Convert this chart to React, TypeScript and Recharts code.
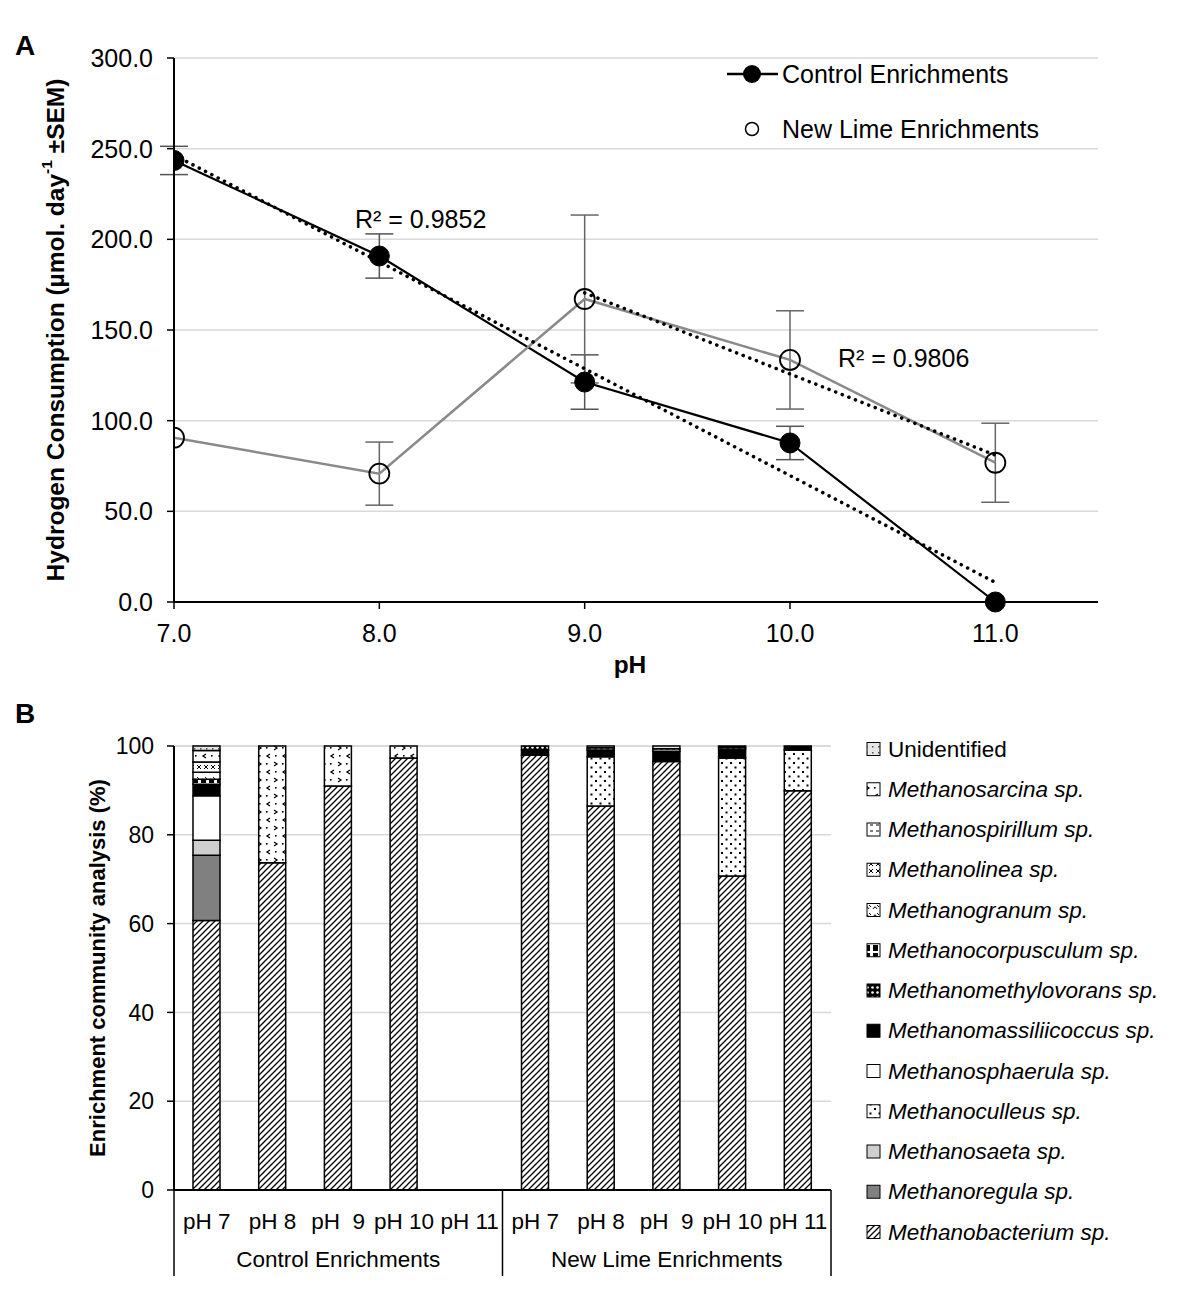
import { ComposedChart, Line, XAxis, YAxis, CartesianGrid, ErrorBar, BarChart, Bar } from 'recharts';

// Panel A: hydrogen consumption vs pH
const phValues = [7, 8, 9, 10, 11];
const controlH2 = [243.5, 190.8, 121.3, 87.7, 0];
const controlSem = [7.8, 12.2, 15.0, 9.2, 0];
const limeH2 = [90.6, 70.8, 167.1, 133.5, 76.8];
const limeSem = [0, 17.4, 46.3, 27.1, 21.8];
const controlTrendPh = [7, 11];
const controlTrend = [246.5, 10.8];
const limeTrendPh = [9, 11];
const limeTrend = [170.5, 81.0];
const yTicksA = [0, 50, 100, 150, 200, 250, 300];
const xTicksA = [7, 8, 9, 10, 11];

// Panel B: community composition (%)
const phLabelsB = ['pH 7', 'pH 8', 'pH  9', 'pH 10', 'pH 11', 'pH 7', 'pH 8', 'pH  9', 'pH 10', 'pH 11'];
const groupLabels = ['Control Enrichments', 'New Lime Enrichments'];
const yTicksB = [0, 20, 40, 60, 80, 100];

const methanobacterium = [60.7, 73.7, 91.0, 97.3, 0, 97.9, 86.5, 96.5, 70.7, 89.9];
const methanoregula = [14.7, 0, 0, 0, 0, 0, 0, 0, 0, 0];
const methanosaeta = [3.4, 0, 0, 0, 0, 0, 0, 0, 0, 0];
const methanoculleus = [0, 0, 0, 0, 0, 0, 11.1, 0, 26.6, 9.2];
const methanosphaerula = [10.0, 0, 0, 0, 0, 0, 0, 0, 0, 0];
const methanomassiliicoccus = [2.6, 0, 0, 0, 0, 1.2, 1.5, 2.3, 2.0, 0.9];
const methanomethylovorans = [0, 0, 0, 0, 0, 0.9, 0, 0, 0, 0];
const methanocorpusculum = [1.1, 0, 0, 0, 0, 0, 0, 0, 0, 0];
const methanogranum = [1.6, 0, 0, 0, 0, 0, 0, 0, 0, 0];
const methanolinea = [2.3, 0, 0, 0, 0, 0, 0, 0, 0, 0];
const methanospirillum = [0, 0, 0, 0, 0, 0, 0.5, 0.6, 0.4, 0];
const methanosarcina = [2.6, 26.3, 9.0, 2.7, 0, 0, 0, 0, 0, 0];
const unidentified = [1.0, 0, 0, 0, 0, 0, 0.4, 0.6, 0.3, 0];

// bottom of stack first
const species = [
  { key: 'bact', name: 'Methanobacterium sp.', values: methanobacterium },
  { key: 'regula', name: 'Methanoregula sp.', values: methanoregula },
  { key: 'saeta', name: 'Methanosaeta sp.', values: methanosaeta },
  { key: 'culleus', name: 'Methanoculleus sp.', values: methanoculleus },
  { key: 'sphaerula', name: 'Methanosphaerula sp.', values: methanosphaerula },
  { key: 'massil', name: 'Methanomassiliicoccus sp.', values: methanomassiliicoccus },
  { key: 'methylo', name: 'Methanomethylovorans sp.', values: methanomethylovorans },
  { key: 'corpus', name: 'Methanocorpusculum sp.', values: methanocorpusculum },
  { key: 'granum', name: 'Methanogranum sp.', values: methanogranum },
  { key: 'linea', name: 'Methanolinea sp.', values: methanolinea },
  { key: 'spiril', name: 'Methanospirillum sp.', values: methanospirillum },
  { key: 'sarcina', name: 'Methanosarcina sp.', values: methanosarcina },
  { key: 'unid', name: 'Unidentified', values: unidentified },
];

const dataA = phValues.map((ph, i) => ({
  ph,
  control: controlH2[i],
  controlErr: controlSem[i],
  lime: limeH2[i],
  limeErr: limeSem[i],
}));
const trendC = controlTrendPh.map((ph, i) => ({ ph, trend: controlTrend[i] }));
const trendL = limeTrendPh.map((ph, i) => ({ ph, trend: limeTrend[i] }));

const dataB = phLabelsB.map((label, i) => {
  const row: any = { id: i, label };
  species.forEach((s) => (row[s.key] = s.values[i]));
  return row;
});

const FONT = '"Liberation Sans", Arial, sans-serif';
const B_LEFT = 174;
const B_RIGHT = 831;
const BAND = (B_RIGHT - B_LEFT) / phLabelsB.length;

function Patterns() {
  return (
    <svg width={0} height={0} style={{ position: 'absolute' }}>
      <defs>
        <pattern id="bact" patternUnits="userSpaceOnUse" width={6} height={6}>
          <rect width={6} height={6} fill="#fff" />
          <path d="M-1,1 l2,-2 M0,6 l6,-6 M5,7 l2,-2" stroke="#000" strokeWidth={1.3} />
        </pattern>
        <pattern id="regula" patternUnits="userSpaceOnUse" width={4} height={4}>
          <rect width={4} height={4} fill="#808080" />
        </pattern>
        <pattern id="saeta" patternUnits="userSpaceOnUse" width={4} height={4}>
          <rect width={4} height={4} fill="#cfcfcf" />
        </pattern>
        <pattern id="culleus" patternUnits="userSpaceOnUse" width={9} height={9}>
          <rect width={9} height={9} fill="#fff" />
          <rect x={1} y={1} width={2} height={2} fill="#000" />
          <rect x={5.5} y={5.5} width={2} height={2} fill="#000" />
        </pattern>
        <pattern id="sphaerula" patternUnits="userSpaceOnUse" width={4} height={4}>
          <rect width={4} height={4} fill="#fff" />
        </pattern>
        <pattern id="massil" patternUnits="userSpaceOnUse" width={4} height={4}>
          <rect width={4} height={4} fill="#000" />
        </pattern>
        <pattern id="methylo" patternUnits="userSpaceOnUse" width={5} height={5}>
          <rect width={5} height={5} fill="#000" />
          <circle cx={2.5} cy={2.5} r={1.3} fill="#fff" />
        </pattern>
        <pattern id="corpus" patternUnits="userSpaceOnUse" width={8} height={8}>
          <rect width={8} height={8} fill="#fff" />
          <rect x={1} y={1} width={5} height={6} fill="#000" />
        </pattern>
        <pattern id="granum" patternUnits="userSpaceOnUse" width={8} height={8}>
          <rect width={8} height={8} fill="#fff" />
          <path d="M1,5 q2,-4 4,0 M5,1 l2,2" stroke="#000" strokeWidth={1} fill="none" />
        </pattern>
        <pattern id="linea" patternUnits="userSpaceOnUse" width={7} height={7}>
          <rect width={7} height={7} fill="#fff" />
          <path d="M1,1 l4,4 M5,1 l-4,4" stroke="#000" strokeWidth={1} />
        </pattern>
        <pattern id="spiril" patternUnits="userSpaceOnUse" width={6} height={6}>
          <rect width={6} height={6} fill="#fff" />
          <path d="M0,3 h3" stroke="#000" strokeWidth={1} />
        </pattern>
        <pattern id="sarcina" patternUnits="userSpaceOnUse" width={16} height={16}>
          <rect width={16} height={16} fill="#fff" />
          <path d="M2,2 l3,2 l-3,2 M14,10 l-3,2 l3,2" stroke="#000" strokeWidth={1.3} fill="none" />
          <rect x={10} y={3} width={1.6} height={1.6} fill="#000" />
          <rect x={3} y={11} width={1.6} height={1.6} fill="#000" />
        </pattern>
        <pattern id="unid" patternUnits="userSpaceOnUse" width={6} height={6}>
          <rect width={6} height={6} fill="#e6e6e6" />
          <rect x={2} y={2} width={1.5} height={1.5} fill="#555" />
        </pattern>
      </defs>
    </svg>
  );
}

function CategoryTick(props: any) {
  const { x, y, payload } = props;
  const i = payload?.index ?? props.index ?? 0;
  return (
    <g>
      <text
        x={x}
        y={y + 31}
        textAnchor="middle"
        dominantBaseline="central"
        fontSize={22.5}
        fontFamily={FONT}
        fill="#000"
        xmlSpace="preserve"
        style={{ whiteSpace: 'pre' }}
      >
        {phLabelsB[i]}
      </text>
      {i % 5 === 0 && (
        <line x1={x - BAND / 2} x2={x - BAND / 2} y1={y} y2={y + 86} stroke="#000" strokeWidth={1.5} />
      )}
      {i === phLabelsB.length - 1 && (
        <line x1={x + BAND / 2} x2={x + BAND / 2} y1={y} y2={y + 86} stroke="#000" strokeWidth={1.5} />
      )}
      {i % 5 === 2 && (
        <text x={x} y={y + 69} textAnchor="middle" dominantBaseline="central" fontSize={22.5} fontFamily={FONT} fill="#000">
          {groupLabels[Math.floor(i / 5)]}
        </text>
      )}
    </g>
  );
}

function Overlay() {
  const rowStep = 40.25;
  const legendB = [...species].reverse();
  return (
    <svg
      width={1183}
      height={1296}
      style={{ position: 'absolute', left: 0, top: 0, pointerEvents: 'none' }}
      fontFamily={FONT}
    >
      <text x={15} y={45} fontSize={28} fontWeight="bold" dominantBaseline="central">A</text>
      <text x={15} y={713} fontSize={28} fontWeight="bold" dominantBaseline="central">B</text>

      <text x={55} y={330} transform="rotate(-90 55 330)" textAnchor="middle" dominantBaseline="central" fontSize={24.5} fontWeight="bold">
        Hydrogen Consumption (µmol. day<tspan fontSize={15.5} dy={-9}>-1</tspan>
        <tspan dy={9}> ±SEM)</tspan>
      </text>
      <text x={630} y={664} textAnchor="middle" dominantBaseline="central" fontSize={24.5} fontWeight="bold">pH</text>

      <text x={355} y={219} dominantBaseline="central" fontSize={25}>R² = 0.9852</text>
      <text x={838} y={358} dominantBaseline="central" fontSize={25}>R² = 0.9806</text>

      <line x1={727} x2={778} y1={74} y2={74} stroke="#000" strokeWidth={2.5} />
      <circle cx={752} cy={74} r={9} fill="#000" />
      <text x={782} y={74} dominantBaseline="central" fontSize={25}>Control Enrichments</text>
      <circle cx={752} cy={129} r={6.5} fill="none" stroke="#000" strokeWidth={1.5} />
      <text x={782} y={129} dominantBaseline="central" fontSize={25}>New Lime Enrichments</text>

      <text x={97} y={968} transform="rotate(-90 97 968)" textAnchor="middle" dominantBaseline="central" fontSize={22} fontWeight="bold">
        Enrichment community analysis (%)
      </text>

      {legendB.map((s, r) => {
        const cy = 749 + r * rowStep;
        return (
          <g key={s.key}>
            <rect x={867} y={cy - 6.5} width={13} height={13} fill={`url(#${s.key})`} stroke="#000" strokeWidth={1} />
            <text x={888} y={cy} dominantBaseline="central" fontSize={22.5} fontStyle={s.key === 'unid' ? 'normal' : 'italic'}>
              {s.name}
            </text>
          </g>
        );
      })}
    </svg>
  );
}

export default function App() {
  return (
    <div style={{ position: 'absolute', left: 0, top: 0, width: 1183, height: 1296, background: '#fff', fontFamily: FONT }}>
      <Patterns />
      <div style={{ position: 'absolute', left: 0, top: 0 }}>
        <ComposedChart width={1183} height={680} data={dataA} margin={{ top: 58, right: 85, bottom: 38, left: 0 }}>
          <CartesianGrid vertical={false} stroke="#d9d9d9" strokeWidth={1.5} />
          <XAxis
            dataKey="ph"
            type="number"
            domain={[7, 11.5]}
            allowDataOverflow
            ticks={xTicksA}
            tickFormatter={(v: number) => v.toFixed(1)}
            height={40}
            tick={{ fontSize: 25, fill: '#000', fontFamily: FONT }}
            axisLine={{ stroke: '#000', strokeWidth: 2 }}
            tickLine={{ stroke: '#000', strokeWidth: 1.5 }}
            tickSize={7}
            tickMargin={15}
          />
          <YAxis
            type="number"
            domain={[0, 300]}
            ticks={yTicksA}
            tickFormatter={(v: number) => v.toFixed(1)}
            width={174}
            tick={{ fontSize: 25, fill: '#000', fontFamily: FONT }}
            axisLine={{ stroke: '#000', strokeWidth: 2 }}
            tickLine={{ stroke: '#000', strokeWidth: 1.5 }}
            tickSize={7}
            tickMargin={14}
          />
          <Line
            dataKey="control"
            type="linear"
            stroke="#000"
            strokeWidth={2.2}
            dot={{ r: 10, fill: '#000', stroke: '#000', strokeWidth: 1 }}
            activeDot={false}
            isAnimationActive={false}
          >
            <ErrorBar dataKey="controlErr" width={14} stroke="#555" strokeWidth={1.5} direction="y" />
          </Line>
          <Line
            dataKey="lime"
            type="linear"
            stroke="#8a8a8a"
            strokeWidth={2.5}
            dot={{ r: 10, fill: 'none', stroke: '#000', strokeWidth: 1.8 }}
            activeDot={false}
            isAnimationActive={false}
          >
            <ErrorBar dataKey="limeErr" width={14} stroke="#666" strokeWidth={1.5} direction="y" />
          </Line>
          <Line
            data={trendC}
            dataKey="trend"
            type="linear"
            stroke="#000"
            strokeWidth={3.5}
            strokeDasharray="0.1 7"
            strokeLinecap="round"
            dot={false}
            activeDot={false}
            isAnimationActive={false}
          />
          <Line
            data={trendL}
            dataKey="trend"
            type="linear"
            stroke="#000"
            strokeWidth={3.5}
            strokeDasharray="0.1 7"
            strokeLinecap="round"
            dot={false}
            activeDot={false}
            isAnimationActive={false}
          />
        </ComposedChart>
      </div>
      <div style={{ position: 'absolute', left: 0, top: 680 }}>
        <BarChart width={1183} height={616} data={dataB} margin={{ top: 66, right: 1183 - B_RIGHT, bottom: 6, left: 0 }}>
          <CartesianGrid vertical={false} stroke="#d9d9d9" strokeWidth={1.5} />
          <XAxis
            dataKey="id"
            type="category"
            interval={0}
            height={100}
            tick={<CategoryTick />}
            tickLine={false}
            tickSize={0}
            tickMargin={0}
            axisLine={{ stroke: '#000', strokeWidth: 2 }}
          />
          <YAxis
            type="number"
            domain={[0, 100]}
            ticks={yTicksB}
            width={B_LEFT}
            tick={{ fontSize: 23, fill: '#000', fontFamily: FONT }}
            axisLine={{ stroke: '#000', strokeWidth: 2 }}
            tickLine={{ stroke: '#000', strokeWidth: 1.5 }}
            tickSize={7}
            tickMargin={13}
          />
          {species.map((s) => (
            <Bar
              key={s.key}
              dataKey={s.key}
              name={s.name}
              stackId="a"
              fill={`url(#${s.key})`}
              stroke="#000"
              strokeWidth={1.5}
              barSize={27}
              isAnimationActive={false}
            />
          ))}
        </BarChart>
      </div>
      <Overlay />
    </div>
  );
}
